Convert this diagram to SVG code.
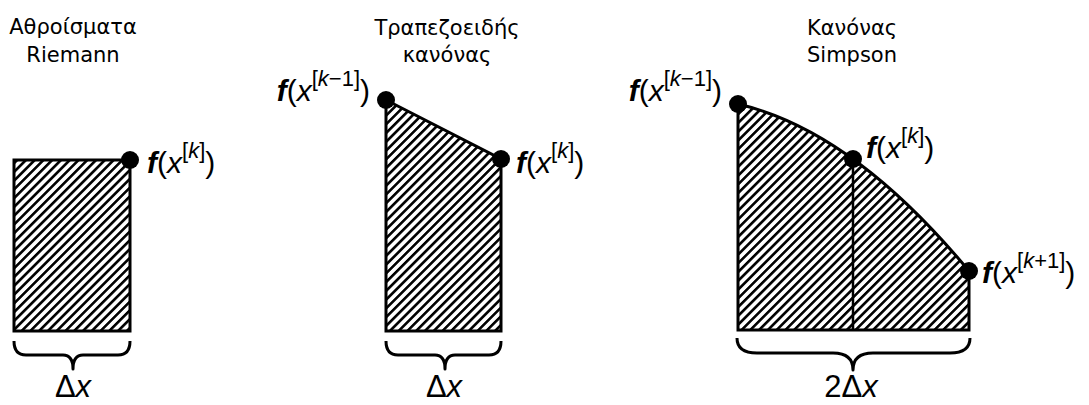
<svg xmlns="http://www.w3.org/2000/svg" width="1089" height="405" viewBox="0 0 1089 405">
<style>
.title{font-family:"DejaVu Sans",sans-serif;font-size:21px;fill:#000;text-anchor:middle}
.lbl{font-family:"Liberation Sans",Arial,sans-serif;font-size:30px;fill:#000}
.end{text-anchor:end}
.it{font-style:italic}
.fb{font-style:italic;font-weight:bold}
.sup{font-size:22px}
.shape{fill:url(#hatch);stroke:#000;stroke-width:3;stroke-linejoin:miter}
.edge{fill:none;stroke:#000;stroke-width:2.5}
.brace{fill:none;stroke:#000;stroke-width:3;stroke-linejoin:round}
.dot{fill:#000}
.dx{font-family:"Liberation Sans",Arial,sans-serif;font-size:31px;fill:#000;text-anchor:middle}
</style>
<defs>
<pattern id="hatch" width="6.2" height="6.2" patternUnits="userSpaceOnUse" patternTransform="rotate(45)">
<rect x="0" y="0" width="2.6" height="6.2" fill="#000"/>
</pattern>
</defs>
<rect width="1089" height="405" fill="#fff"/>

<g id="riemann">
<text class="title" x="73" y="34">Αθροίσματα</text>
<text class="title" x="73" y="62">Riemann</text>
<rect class="shape" x="14" y="160" width="116" height="171"/>
<circle class="dot" cx="130" cy="160" r="9"/>
<text class="lbl" x="147" y="173"><tspan class="fb">f</tspan>(<tspan class="it">x</tspan><tspan class="sup" dy="-15">[<tspan class="it">k</tspan>]</tspan><tspan dy="15">)</tspan></text>
<path class="brace" d="M14,341 Q14,355 26,355 L63,355 Q73,355 73,369 Q73,355 83,355 L118,355 Q130,355 130,341"/>
<text class="dx" x="73" y="397">Δ<tspan class="it">x</tspan></text>
</g>

<g id="trapezoid">
<text class="title" x="447" y="35">Τραπεζοειδής</text>
<text class="title" x="447" y="62">κανόνας</text>
<polygon class="shape" points="386,100 501,159 501,331 386,331"/>
<circle class="dot" cx="386" cy="100" r="9"/>
<circle class="dot" cx="501" cy="159" r="9"/>
<text class="lbl end" x="370" y="101"><tspan class="fb">f</tspan>(<tspan class="it">x</tspan><tspan class="sup" dy="-15">[<tspan class="it">k</tspan>−1]</tspan><tspan dy="15">)</tspan></text>
<text class="lbl" x="516" y="173"><tspan class="fb">f</tspan>(<tspan class="it">x</tspan><tspan class="sup" dy="-15">[<tspan class="it">k</tspan>]</tspan><tspan dy="15">)</tspan></text>
<path class="brace" d="M386,341 Q386,355 398,355 L435,355 Q445,355 445,369 Q445,355 455,355 L489,355 Q501,355 501,341"/>
<text class="dx" x="444" y="397">Δ<tspan class="it">x</tspan></text>
</g>

<g id="simpson">
<text class="title" x="852" y="35">Κανόνας</text>
<text class="title" x="852" y="62">Simpson</text>
<path class="shape" d="M738,104 Q852.5,130.5 969,271 L969,330 L738,330 Z"/>
<line class="edge" x1="853" y1="159" x2="853" y2="330"/>
<circle class="dot" cx="738" cy="104" r="9"/>
<circle class="dot" cx="853" cy="159" r="9"/>
<circle class="dot" cx="969" cy="271" r="9"/>
<text class="lbl end" x="722" y="101"><tspan class="fb">f</tspan>(<tspan class="it">x</tspan><tspan class="sup" dy="-15">[<tspan class="it">k</tspan>−1]</tspan><tspan dy="15">)</tspan></text>
<text class="lbl" x="866" y="158"><tspan class="fb">f</tspan>(<tspan class="it">x</tspan><tspan class="sup" dy="-15">[<tspan class="it">k</tspan>]</tspan><tspan dy="15">)</tspan></text>
<text class="lbl" x="982" y="283"><tspan class="fb">f</tspan>(<tspan class="it">x</tspan><tspan class="sup" dy="-15">[<tspan class="it">k</tspan>+1]</tspan><tspan dy="15">)</tspan></text>
<path class="brace" d="M737,338 Q737,353 757,353 L833,353 Q853,353 853,370 Q853,353 873,353 L950,353 Q970,353 970,338"/>
<text class="dx" x="851" y="397">2Δ<tspan class="it">x</tspan></text>
</g>
</svg>
